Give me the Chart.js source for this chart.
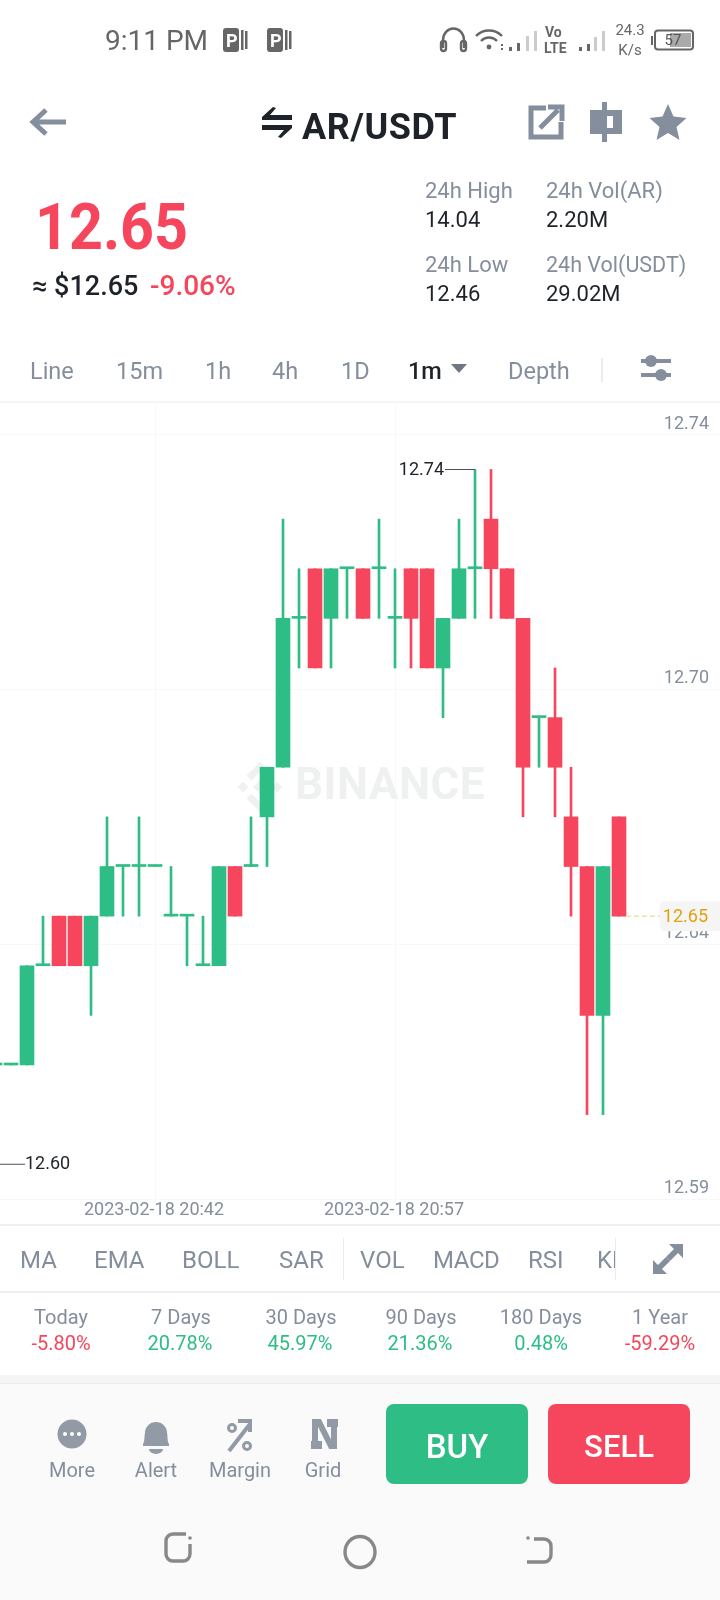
<!DOCTYPE html>
<html><head><meta charset="utf-8">
<script src="https://cdn.jsdelivr.net/npm/chart.js@4"></script>
<style>
html,body{margin:0;padding:0;background:#fff}
#page{position:relative;width:720px;height:1600px;overflow:hidden;background:#fff;font-family:Roboto,sans-serif;color:#848E9C}
.t{position:absolute;white-space:nowrap;transform:translateY(-50%);line-height:1}
.c{transform:translate(-50%,-50%)}
.box{position:absolute}
#chartWrap{position:absolute;left:-13px;top:402px;width:736px;height:824px}
svg{position:absolute;left:0;top:0}
</style></head><body>
<div id="page">
<div class="box" style="left:0;top:401px;width:720px;height:2px;background:#f5f5f5"></div>
<div id="chartWrap"><canvas id="c" width="736" height="824"></canvas></div>
<div class="box" style="left:0;top:1224px;width:720px;height:2px;background:#efefef"></div>
<div class="box" style="left:0;top:1291px;width:720px;height:2px;background:#efefef"></div>
<div class="box" style="left:0;top:1375px;width:720px;height:225px;background:#fafafa"></div>
<div class="box" style="left:0;top:1375px;width:720px;height:8px;background:#f5f5f5;border-bottom:1px solid #ececec"></div>
<div class="box" style="left:386px;top:1404px;width:142px;height:80px;border-radius:8px;background:#2EBD85"></div>
<div class="box" style="left:548px;top:1404px;width:142px;height:80px;border-radius:8px;background:#F6465D"></div>

<svg width="720" height="1600" viewBox="0 0 720 1600">
 <!-- status bar -->
 <g fill="#666"><rect x="223" y="28" width="16" height="24" rx="3"/><rect x="241" y="30" width="2.5" height="20"/><rect x="245" y="31" width="2.5" height="18"/>
 <rect x="267" y="28" width="16" height="24" rx="3"/><rect x="285" y="30" width="2.5" height="20"/><rect x="289" y="31" width="2.5" height="18"/></g>
 <g fill="#fff" font-family="Roboto" font-weight="700" font-size="18"><text x="226" y="47">P</text><text x="270" y="47">P</text></g>
 <g fill="none" stroke="#666" stroke-width="2.4">
  <path d="M443 48V40a10 11 0 0 1 21 0v8"/><rect x="441" y="41" width="5" height="10" rx="2.5"/><rect x="461" y="41" width="5" height="10" rx="2.5"/>
  <path d="M476 36a18 18 0 0 1 26 0M481 41a11 11 0 0 1 16 0"/>
 </g>
 <g fill="#666"><circle cx="489" cy="47" r="2.4"/><rect x="501" y="44" width="2" height="2"/><rect x="501" y="48" width="2" height="2"/>
  <rect x="509" y="47" width="3" height="4"/><rect x="517" y="43" width="3" height="8"/><rect x="579" y="47" width="3" height="4"/><rect x="587" y="44" width="3" height="7"/></g>
 <g fill="#ccc"><rect x="526" y="36" width="3" height="15"/><rect x="534" y="31" width="3" height="20"/><rect x="594" y="37" width="3" height="14"/><rect x="602" y="31" width="3" height="20"/></g>
 <rect x="655" y="30.500" width="38" height="19" rx="3" fill="none" stroke="#666" stroke-width="2"/><rect x="651" y="36" width="2" height="9" fill="#666"/><rect x="670" y="33" width="21" height="14" fill="#aaa"/>
 <!-- header -->
 <path d="M66 122H34M46 110L33 122L46 134" fill="none" stroke="#848E9C" stroke-width="5"/>
 <g fill="#1E2329"><path d="M262 120h30v-5h-22l6-7-3-1-11 10z"/><path d="M292 125h-30v5h22l-6 7 3 1 11-10z"/></g>
 <path d="M546 108h-15v29h30v-15M540 128l18-18M548 107h14v14" fill="none" stroke="#848E9C" stroke-width="5"/>
 <path d="M590 110h12v-8h5v8h15v24h-15v8h-5v-8h-12z" fill="#848E9C"/>
 <rect x="607" y="116" width="6" height="12" fill="#fff"/>
 <path d="M668 104l5.500 12.500 13 1.500-10 9 3 13-11.500-7-11.500 7 3-13-10-9 13-1.500z" fill="#848E9C"/>
 <!-- tabs -->
 <path d="M451 364h16l-8 9z" fill="#6f7785"/>
 <rect x="601" y="358" width="2" height="24" fill="#eaecef"/>
 <g fill="#848E9C"><rect x="641" y="359" width="30" height="4"/><rect x="641" y="373" width="30" height="4"/><circle cx="651" cy="361" r="6"/><circle cx="661" cy="375" r="6"/></g>
 <!-- indicator -->
 <rect x="343" y="1238" width="1" height="42" fill="#eaecef"/><rect x="615" y="1238" width="1" height="42" fill="#eaecef"/>
 <g fill="#848E9C"><path d="M683 1244v14l-5-5-8 8-4-4 8-8-5-5z"/><path d="M653 1274v-14l5 5 8-8 4 4-8 8 5 5z"/></g>
 <!-- bottom icons -->
 <circle cx="72" cy="1434" r="14.500" fill="#929AA5"/><g fill="#fff"><circle cx="65" cy="1434" r="2"/><circle cx="72" cy="1434" r="2"/><circle cx="79" cy="1434" r="2"/></g>
 <path d="M143 1444c2-3 1-7 2-11a11 11 0 0 1 22 0c1 4 0 8 2 11v2h-26z" fill="#929AA5"/><path d="M149 1449h14a7 5 0 0 1-14 0z" fill="#929AA5"/>
 <g fill="none" stroke="#929AA5"><circle cx="232" cy="1428" r="3.500" stroke-width="3"/><circle cx="247" cy="1446" r="3.500" stroke-width="3"/><path d="M229 1451l21-27M238 1421h12v11" stroke-width="4"/></g>
 <path d="M315 1449v-27h4l12 24h3v-27" fill="none" stroke="#929AA5" stroke-width="6"/><rect x="311" y="1441" width="11" height="8" fill="#929AA5"/><rect x="327" y="1419" width="11" height="8" fill="#929AA5"/>
 <g fill="none" stroke="#888" stroke-width="3.400">
  <path d="M186 1534h-13a7 7 0 0 0-7 7v13a7 7 0 0 0 7 7h10a7 7 0 0 0 7-7v-10"/>
  <ellipse cx="360" cy="1552" rx="15" ry="15.500"/>
  <path d="M534 1539h10a7 7 0 0 1 7 7v9a7 7 0 0 1-7 7h-17"/>
 </g>
 <circle cx="190" cy="1538" r="1.800" fill="#888"/><circle cx="528" cy="1538" r="1.800" fill="#888"/>
</svg>

<div class="t" style="left:105px;top:41px;font-size:28px;color:#666">9:11 PM</div>
<div class="t" style="left:545px;top:32px;font-size:14px;font-weight:700;color:#666">Vo</div>
<div class="t" style="left:544px;top:48px;font-size:14px;font-weight:700;color:#666">LTE</div>
<div class="t c" style="left:630px;top:30px;font-size:15px;color:#666">24.3</div>
<div class="t c" style="left:630px;top:50px;font-size:15px;color:#666">K/s</div>
<div class="t c" style="left:673px;top:40px;font-size:15px;color:#555">57</div>

<div class="t" style="left:302px;top:127px;font-size:36px;font-weight:700;letter-spacing:0.6px;color:#1E2329">AR/USDT</div>
<div class="t" style="left:35px;top:228px;font-size:64px;font-weight:700;color:#F6465D;transform:translateY(-50%) scaleX(0.925);transform-origin:0 50%">12.65</div>
<div class="t" style="left:32px;top:286px;font-size:27px;font-weight:500;color:#1E2329">≈ $12.65</div>
<div class="t" style="left:150px;top:286px;font-size:28px;font-weight:500;color:#F6465D">-9.06%</div>
<div class="t" style="left:425px;top:191px;font-size:22px">24h High</div>
<div class="t" style="left:425px;top:220px;font-size:22px;color:#1E2329">14.04</div>
<div class="t" style="left:546px;top:191px;font-size:22px">24h Vol(AR)</div>
<div class="t" style="left:546px;top:220px;font-size:22px;color:#1E2329">2.20M</div>
<div class="t" style="left:425px;top:265px;font-size:22px">24h Low</div>
<div class="t" style="left:425px;top:294px;font-size:22px;color:#1E2329">12.46</div>
<div class="t" style="left:546px;top:265px;font-size:21.500px">24h Vol(USDT)</div>
<div class="t" style="left:546px;top:294px;font-size:22px;color:#1E2329">29.02M</div>

<div class="t" style="left:30px;top:372px;font-size:23.500px">Line</div>
<div class="t" style="left:116px;top:372px;font-size:23.500px">15m</div>
<div class="t" style="left:205px;top:372px;font-size:23.500px">1h</div>
<div class="t" style="left:272px;top:372px;font-size:23.500px">4h</div>
<div class="t" style="left:341px;top:372px;font-size:23.500px">1D</div>
<div class="t" style="left:408px;top:372px;font-size:23.500px;font-weight:500;color:#1E2329">1m</div>
<div class="t" style="left:508px;top:372px;font-size:23.500px">Depth</div>

<div class="t" style="left:20px;top:1260px;font-size:24px">MA</div>
<div class="t" style="left:94px;top:1260px;font-size:24px">EMA</div>
<div class="t" style="left:182px;top:1260px;font-size:24px">BOLL</div>
<div class="t" style="left:279px;top:1260px;font-size:24px">SAR</div>
<div class="t" style="left:360px;top:1260px;font-size:24px">VOL</div>
<div class="t" style="left:433px;top:1260px;font-size:24px;letter-spacing:-0.4px">MACD</div>
<div class="t" style="left:528px;top:1260px;font-size:24px">RSI</div>
<div class="box" style="left:597px;top:1240px;width:18px;height:40px;overflow:hidden"><div class="t" style="left:0;top:20px;font-size:24px">KDJ</div></div>

<div class="t c" style="left:61px;top:1317px;font-size:20px">Today</div>
<div class="t c" style="left:181px;top:1317px;font-size:20px">7 Days</div>
<div class="t c" style="left:301px;top:1317px;font-size:20px">30 Days</div>
<div class="t c" style="left:421px;top:1317px;font-size:20px">90 Days</div>
<div class="t c" style="left:541px;top:1317px;font-size:20px">180 Days</div>
<div class="t c" style="left:660px;top:1317px;font-size:20px">1 Year</div>
<div class="t c" style="left:61px;top:1343px;font-size:20px;color:#F6465D">-5.80%</div>
<div class="t c" style="left:180px;top:1343px;font-size:20px;color:#2EBD85">20.78%</div>
<div class="t c" style="left:300px;top:1343px;font-size:20px;color:#2EBD85">45.97%</div>
<div class="t c" style="left:420px;top:1343px;font-size:20px;color:#2EBD85">21.36%</div>
<div class="t c" style="left:541px;top:1343px;font-size:20px;color:#2EBD85">0.48%</div>
<div class="t c" style="left:660px;top:1343px;font-size:20px;color:#F6465D">-59.29%</div>

<div class="t c" style="left:72px;top:1470px;font-size:20px">More</div>
<div class="t c" style="left:156px;top:1470px;font-size:20px">Alert</div>
<div class="t c" style="left:240px;top:1470px;font-size:20px">Margin</div>
<div class="t c" style="left:323px;top:1470px;font-size:20px">Grid</div>
<div class="t c" style="left:457px;top:1446px;font-size:33px;font-weight:500;color:#fff">BUY</div>
<div class="t c" style="left:619px;top:1446px;font-size:31px;font-weight:500;color:#fff">SELL</div>
</div>

<script>
// Minutes on the x axis (one candle per minute, trailing slots are empty)
const categories = ["20:32","20:33","20:34","20:35","20:36","20:37","20:38","20:39","20:40","20:41","20:42","20:43","20:44","20:45","20:46","20:47","20:48","20:49","20:50","20:51","20:52","20:53","20:54","20:55","20:56","20:57","20:58","20:59","21:00","21:01","21:02","21:03","21:04","21:05","21:06","21:07","21:08","21:09","21:10","21:11","21:12","21:13","21:14","21:15","21:16","21:17"];
const opens  = [12.62,12.62,12.62,12.64,12.65,12.65,12.64,12.65,12.66,12.66,12.66,12.65,12.65,12.64,12.64,12.66,12.66,12.67,12.68,12.71,12.72,12.71,12.72,12.72,12.72,12.71,12.72,12.72,12.70,12.71,12.72,12.73,12.72,12.71,12.69,12.69,12.67,12.66,12.63,12.67];
const highs  = [12.62,12.62,12.64,12.65,12.65,12.65,12.65,12.67,12.66,12.67,12.66,12.66,12.65,12.65,12.66,12.66,12.67,12.68,12.73,12.72,12.72,12.72,12.72,12.72,12.73,12.72,12.72,12.72,12.71,12.73,12.74,12.74,12.72,12.71,12.69,12.70,12.68,12.66,12.66,12.67];
const lows   = [12.62,12.62,12.62,12.64,12.64,12.64,12.63,12.65,12.65,12.65,12.66,12.65,12.64,12.64,12.64,12.65,12.66,12.66,12.68,12.70,12.70,12.70,12.71,12.71,12.71,12.70,12.70,12.70,12.69,12.71,12.71,12.71,12.71,12.67,12.68,12.67,12.65,12.61,12.61,12.65];
const closes = [12.62,12.62,12.64,12.64,12.64,12.64,12.65,12.66,12.66,12.66,12.66,12.65,12.65,12.64,12.66,12.65,12.66,12.68,12.71,12.71,12.70,12.72,12.72,12.71,12.72,12.71,12.71,12.70,12.71,12.72,12.72,12.72,12.71,12.68,12.69,12.68,12.66,12.63,12.66,12.65];
// Axis gridlines and the rounded labels the app prints above them
const gridValues = [12.747,12.6957,12.6443,12.593];
const gridLabels = ["12.74","12.70","12.64","12.59"];
const timeTicks = ["20:42","20:57"];
const datePrefix = "2023-02-18 ";
const highMark = 12.74, lowMark = 12.60, lastPrice = 12.65;
const highMarkIndex = 30, lowMarkIndex = 0, lastIndex = 39;

const GREEN="#2EBD85", RED="#F6465D";
const colors = closes.map((c,i)=> c<opens[i] ? RED : GREEN);
const FONT = "Roboto, sans-serif";

const overlay = {
  id:"overlay",
  beforeDatasetsDraw(chart){
    const g=chart.ctx; g.save();
    g.fillStyle="#EFF1F1";
    g.font="700 44px "+FONT; g.textBaseline="middle"; g.textAlign="left";
    if("letterSpacing" in g) g.letterSpacing="0.5px";
    g.fillText("BINANCE",308,386);
    if("letterSpacing" in g) g.letterSpacing="0px";
    const cx=273, cy=385, d=(x,y,r)=>{g.beginPath();g.moveTo(x,y-r);g.lineTo(x+r,y);g.lineTo(x,y+r);g.lineTo(x-r,y);g.closePath();g.fill();};
    d(cx,cy,7); d(cx-17,cy,5.5); d(cx+17,cy,5.5);
    g.strokeStyle="#EFF1F1"; g.lineWidth=7;
    g.beginPath(); g.moveTo(cx-11,cy-9); g.lineTo(cx,cy-20); g.lineTo(cx+11,cy-9); g.stroke();
    g.beginPath(); g.moveTo(cx-11,cy+9); g.lineTo(cx,cy+20); g.lineTo(cx+11,cy+9); g.stroke();
    g.restore();
  },
  afterDraw(chart){
    const g=chart.ctx, X=chart.scales.x, Y=chart.scales.y; g.save();
    g.font="18px "+FONT; g.textBaseline="middle";
    // high mark
    let y=Y.getPixelForValue(highMark), x=X.getPixelForValue(highMarkIndex);
    g.strokeStyle="#4b5058"; g.lineWidth=1;
    g.beginPath(); g.moveTo(x-30,y); g.lineTo(x,y); g.stroke();
    g.fillStyle="#1E2329"; g.textAlign="right"; g.fillText(highMark.toFixed(2),x-31,y+1);
    // low mark
    y=Y.getPixelForValue(lowMark); x=X.getPixelForValue(lowMarkIndex);
    g.beginPath(); g.moveTo(x,y); g.lineTo(x+30,y); g.stroke();
    g.textAlign="left"; g.fillText(lowMark.toFixed(2),x+30,y);
    // last price
    y=Y.getPixelForValue(lastPrice); x=X.getPixelForValue(lastIndex)+7;
    g.strokeStyle="#F5DFA6"; g.lineWidth=1.5; g.setLineDash([5,3]);
    g.beginPath(); g.moveTo(x,y); g.lineTo(673,y); g.stroke(); g.setLineDash([]);
    g.fillStyle="#F5F5F5"; g.beginPath(); g.roundRect(673,y-15,60,30,[5,0,0,5]); g.fill();
    g.fillStyle="#E0A30B"; g.textAlign="right"; g.fillText(lastPrice.toFixed(2),721,y+1);
    g.restore();
  }
};

new Chart(document.getElementById("c"),{
  type:"bar",
  data:{labels:categories,datasets:[
    {label:"wick",data:highs.map((h,i)=>[lows[i],h]),backgroundColor:colors,barThickness:2,grouped:false,borderSkipped:false,order:2},
    {label:"body",data:opens.map((o,i)=>[o,closes[i]]),backgroundColor:colors,barThickness:14,minBarLength:2,grouped:false,borderSkipped:false,order:1}
  ]},
  plugins:[overlay],
  options:{
    responsive:false,animation:false,
    layout:{padding:0},
    plugins:{legend:{display:false},tooltip:{enabled:false}},
    scales:{
      x:{type:"category",offset:true,
        grid:{offset:false,color:"#F8F8F8",drawTicks:false,lineWidth:1},
        border:{display:false},
        ticks:{autoSkip:false,maxRotation:0,minRotation:0,padding:1,labelOffset:-1,color:"#848E9C",font:{family:FONT,size:18},
          callback(v){return datePrefix+this.getLabelForValue(v);}},
        afterBuildTicks(a){a.ticks=a.ticks.filter(t=>timeTicks.includes(categories[t.value]));},
        afterFit(a){a.height=27;}
      },
      y:{type:"linear",position:"right",min:12.593,max:12.7536,
        grid:{color:"#F8F8F8",drawTicks:false,lineWidth:1},
        border:{display:false},
        afterBuildTicks(a){a.ticks=gridValues.map(v=>({value:v}));},
        afterFit(a){a.width=0;a.paddingTop=0;a.paddingBottom=0;},
        ticks:{mirror:true,padding:-14,labelOffset:-10.5,color:"#848E9C",font:{family:FONT,size:18},
          callback(v){return gridLabels[gridValues.indexOf(v)];}}
      }
    }
  }
});
</script>
</body></html>
